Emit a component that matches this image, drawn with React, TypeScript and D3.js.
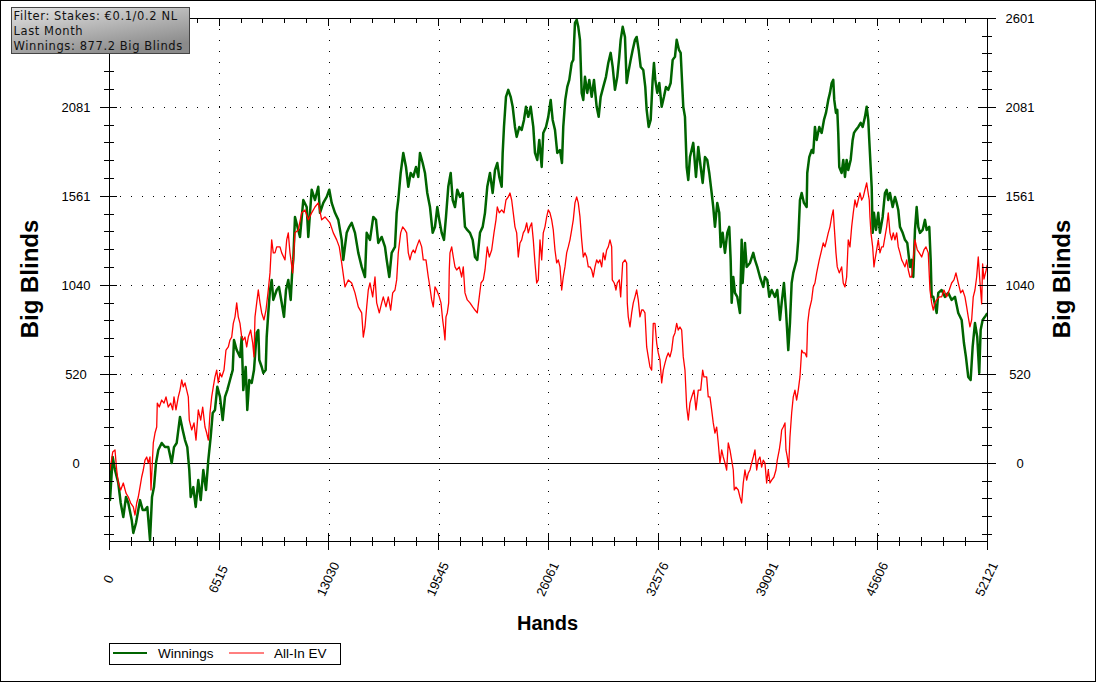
import React from 'react';
import * as d3 from 'd3';

const xTicks = [0, 6515, 13030, 19545, 26061, 32576, 39091, 45606, 52121];
const yTicks = [0, 520, 1040, 1561, 2081, 2601];
const infoLines = ['Filter: Stakes: €0.1/0.2 NL', 'Last Month', 'Winnings: 877.2 Big Blinds'];
const seriesNames = ['Winnings', 'All-In EV'];
const seriesColors = ['#006400', '#ff0000'];

const winnings: [number, number][] = [
  [0,0],[42,-215],[202,37],[338,-39],[534,-115],[677,-232],[831,-314],[991,-197],[1128,-232],[1330,-331],[1425,-407],[1585,-349],[1721,-273],[1822,-215],[1983,-273],[2119,-273],[2256,-255],[2416,-448],[2535,-197],[2653,-139],[2772,2],[2909,78],[3110,119],[3306,95],[3502,95],[3704,2],[3841,95],[4001,119],[4197,271],[4357,195],[4494,136],[4630,95],[4749,-39],[4832,-197],[4986,-139],[5129,-255],[5283,-98],[5426,-215],[5580,-39],[5740,-156],[5877,19],[6019,154],[6138,294],[6274,312],[6411,447],[6571,388],[6731,253],[6868,388],[7004,428],[7165,487],[7325,545],[7402,721],[7563,662],[7758,621],[7859,738],[7954,428],[8097,563],[8192,312],[8310,487],[8453,470],[8589,545],[8750,762],[8845,779],[8904,604],[9047,563],[9142,528],[9284,545],[9343,738],[9438,879],[9539,1013],[9640,1072],[9735,955],[9937,1013],[10073,1031],[10234,938],[10370,856],[10489,1013],[10625,1072],[10768,955],[10863,1130],[10922,1189],[11023,1440],[11320,1323],[11516,1539],[11718,1498],[11813,1323],[12014,1599],[12210,1539],[12406,1616],[12507,1464],[12703,1522],[12905,1557],[13059,1599],[13202,1522],[13398,1464],[13594,1423],[13795,1306],[13890,1189],[14092,1347],[14246,1382],[14389,1405],[14585,1347],[14781,1230],[14983,1148],[15178,1089],[15279,1347],[15475,1306],[15671,1440],[15831,1423],[15968,1288],[16170,1323],[16366,1265],[16467,1189],[16621,1089],[16763,1230],[16959,1265],[17060,1464],[17155,1539],[17297,1697],[17452,1814],[17612,1732],[17749,1616],[17891,1697],[18045,1674],[18206,1732],[18342,1674],[18443,1814],[18603,1755],[18740,1697],[18876,1580],[19037,1498],[19197,1347],[19334,1382],[19470,1498],[19589,1423],[19731,1347],[19868,1306],[19987,1440],[20123,1616],[20266,1697],[20385,1539],[20521,1498],[20657,1599],[20818,1557],[20978,1580],[21114,1382],[21251,1364],[21411,1347],[21571,1306],[21708,1206],[21845,1189],[22005,1347],[22165,1382],[22302,1464],[22438,1616],[22598,1697],[22758,1580],[22895,1714],[23032,1755],[23150,1674],[23293,1616],[23352,1814],[23429,1966],[23548,2142],[23684,2183],[23827,2142],[23946,2084],[24082,1966],[24183,1908],[24338,1966],[24480,1949],[24617,2007],[24735,2084],[24872,2025],[25014,2084],[25169,1966],[25270,1814],[25406,1773],[25525,1890],[25668,1732],[25762,1931],[25923,1966],[26059,2025],[26202,2124],[26320,2007],[26457,1949],[26593,1814],[26754,1831],[26872,1755],[26949,1966],[27068,2124],[27187,2200],[27306,2241],[27448,2340],[27543,2358],[27644,2574],[27745,2592],[27840,2551],[27941,2475],[28042,2165],[28137,2124],[28238,2259],[28374,2165],[28493,2241],[28636,2142],[28772,2241],[28932,2084],[29051,2025],[29170,2142],[29324,2200],[29484,2259],[29621,2340],[29763,2399],[29882,2317],[30018,2183],[30155,2259],[30274,2376],[30357,2475],[30476,2551],[30612,2492],[30713,2223],[30808,2282],[30950,2358],[31069,2416],[31206,2475],[31306,2492],[31425,2416],[31544,2317],[31698,2299],[31817,2200],[31900,2066],[32019,1966],[32138,2007],[32256,2241],[32333,2340],[32411,2241],[32529,2165],[32648,2223],[32791,2084],[32927,2142],[33046,2200],[33182,2183],[33325,2223],[33444,2358],[33580,2376],[33681,2475],[33818,2416],[33918,2399],[34073,2084],[34174,2025],[34275,1732],[34370,1656],[34471,1790],[34666,1873],[34827,1674],[34963,1849],[35106,1732],[35224,1639],[35361,1790],[35497,1773],[35616,1697],[35758,1580],[35853,1498],[35954,1382],[36091,1522],[36210,1464],[36293,1265],[36411,1347],[36548,1230],[36685,1347],[36803,1382],[36886,1189],[36946,938],[37041,1089],[37142,996],[37278,973],[37438,879],[37539,1306],[37598,1054],[37735,1288],[37836,1148],[38032,1171],[38228,1230],[38329,1189],[38465,1148],[38625,1089],[38821,1031],[38922,1089],[39059,1072],[39178,973],[39320,1013],[39516,973],[39653,1013],[39813,838],[39914,938],[40050,1054],[40169,896],[40306,662],[40406,821],[40507,1054],[40602,1113],[40804,1189],[40899,1306],[41000,1539],[41101,1580],[41237,1522],[41398,1498],[41433,1697],[41552,1790],[41694,1831],[41789,1814],[41890,1966],[41991,1890],[42146,1966],[42288,1931],[42425,2007],[42543,2048],[42680,2124],[42781,2165],[42882,2223],[42977,2241],[43036,2124],[43137,2048],[43214,2066],[43273,1931],[43333,1732],[43475,1697],[43570,1773],[43671,1674],[43772,1773],[43867,1714],[44010,1773],[44128,1890],[44206,1931],[44324,1949],[44461,1966],[44603,1990],[44722,1966],[44859,2025],[44960,2084],[45055,2007],[45114,1890],[45197,1732],[45257,1616],[45316,1347],[45393,1464],[45512,1364],[45648,1464],[45749,1347],[45909,1440],[46046,1580],[46147,1599],[46242,1539],[46343,1580],[46503,1498],[46640,1557],[46741,1522],[46836,1481],[46937,1382],[47097,1347],[47234,1306],[47370,1288],[47530,1148],[47631,1189],[47726,1089],[47827,1364],[47928,1498],[48023,1382],[48124,1347],[48284,1364],[48421,1423],[48522,1364],[48676,1382],[48759,1189],[48819,973],[48914,973],[49116,879],[49211,996],[49411,1013],[49607,973],[49803,996],[50005,955],[50201,973],[50397,879],[50598,838],[50735,703],[50853,622],[50990,505],[51132,487],[51251,680],[51388,820],[51524,738],[51643,528],[51726,779],[51844,838],[51981,856],[52121,877]
];

const allInEV: [number, number][] = [
  [0,0],[42,-39],[202,66],[338,78],[439,-39],[534,-115],[677,-156],[831,-115],[991,-174],[1128,-197],[1270,-232],[1425,-255],[1526,-302],[1626,-232],[1721,-197],[1822,-139],[1923,-80],[2018,-39],[2119,19],[2220,37],[2315,2],[2416,37],[2475,-156],[2553,2],[2612,119],[2713,177],[2814,212],[2849,352],[2968,329],[3110,370],[3247,352],[3366,388],[3502,329],[3645,352],[3763,312],[3841,388],[3959,312],[4096,388],[4197,428],[4298,487],[4393,447],[4494,470],[4594,428],[4690,388],[4749,253],[4891,195],[5028,236],[5147,136],[5283,312],[5426,253],[5544,329],[5681,212],[5782,177],[5877,136],[5978,294],[6078,388],[6173,447],[6274,505],[6375,545],[6470,470],[6571,528],[6672,505],[6809,545],[6927,662],[7064,680],[7165,721],[7266,738],[7361,818],[7462,856],[7563,938],[7657,856],[7758,818],[7859,738],[7954,721],[8055,738],[8156,680],[8251,738],[8393,779],[8512,703],[8589,622],[8649,856],[8750,938],[8845,1013],[8946,938],[9047,879],[9183,838],[9302,896],[9438,1013],[9539,1113],[9640,1306],[9735,1230],[9836,1230],[9937,1265],[10133,1265],[10234,1230],[10430,1189],[10531,1306],[10625,1347],[10726,1230],[10886,1113],[11023,1347],[11219,1364],[11421,1464],[11617,1481],[11813,1423],[12014,1464],[12210,1498],[12406,1522],[12608,1423],[12804,1440],[13101,1405],[13297,1347],[13499,1306],[13653,1265],[13795,1171],[13991,1031],[14187,1072],[14389,1054],[14585,996],[14781,914],[14983,879],[15078,738],[15178,797],[15279,914],[15374,1013],[15475,1054],[15636,973],[15772,1089],[15873,938],[16027,879],[16170,938],[16265,973],[16425,914],[16562,973],[16704,896],[16823,996],[16959,1013],[17060,1072],[17155,1230],[17297,1347],[17416,1382],[17553,1364],[17654,1347],[17749,1230],[17850,1189],[17951,1230],[18045,1247],[18146,1230],[18247,1265],[18401,1306],[18544,1265],[18639,1189],[18799,1189],[18936,1089],[18995,1054],[19137,955],[19232,914],[19334,1031],[19434,1013],[19589,973],[19690,938],[19790,838],[19868,779],[19927,721],[19987,856],[20064,879],[20147,938],[20182,1130],[20224,1230],[20325,1265],[20420,1206],[20521,1148],[20622,1130],[20776,1148],[20918,1089],[21013,1148],[21114,996],[21251,955],[21411,938],[21571,914],[21708,896],[21845,879],[21963,973],[22064,1054],[22201,1072],[22302,1130],[22361,1189],[22438,1265],[22557,1206],[22699,1247],[22836,1347],[22955,1423],[23032,1498],[23150,1464],[23293,1481],[23429,1464],[23548,1539],[23684,1557],[23785,1580],[23886,1539],[23981,1464],[24082,1382],[24183,1347],[24278,1206],[24379,1288],[24480,1306],[24575,1347],[24676,1364],[24777,1405],[24872,1347],[24973,1382],[25074,1405],[25169,1306],[25270,1171],[25371,1054],[25466,1072],[25567,1306],[25668,1189],[25762,1347],[25863,1382],[25964,1440],[26059,1481],[26160,1464],[26261,1423],[26356,1364],[26457,1247],[26558,1171],[26653,1189],[26754,1148],[26855,1013],[26949,1089],[27050,1148],[27151,1230],[27246,1265],[27347,1306],[27448,1364],[27543,1423],[27644,1522],[27745,1557],[27840,1522],[27941,1440],[28042,1306],[28137,1206],[28238,1230],[28339,1206],[28434,1148],[28535,1148],[28636,1130],[28730,1089],[28831,1148],[28932,1189],[29027,1171],[29128,1189],[29229,1148],[29324,1230],[29425,1189],[29526,1247],[29621,1265],[29722,1306],[29823,1265],[29858,1072],[29977,1054],[30078,1013],[30155,1054],[30274,1072],[30357,973],[30476,1171],[30612,1189],[30713,1171],[30749,938],[30808,856],[30909,797],[31010,879],[31105,938],[31206,973],[31306,1013],[31401,955],[31502,856],[31603,896],[31698,896],[31799,879],[31900,680],[31995,622],[32096,563],[32197,545],[32292,818],[32393,818],[32494,703],[32589,645],[32690,604],[32791,470],[32886,545],[32987,586],[33088,622],[33182,645],[33283,622],[33384,662],[33479,738],[33580,762],[33681,818],[33776,779],[33877,797],[33978,779],[34073,622],[34174,545],[34275,329],[34370,253],[34471,352],[34572,388],[34708,428],[34827,312],[34963,428],[35106,428],[35224,545],[35301,505],[35461,505],[35556,388],[35657,388],[35758,312],[35853,236],[35954,177],[36055,212],[36150,119],[36251,2],[36352,78],[36447,37],[36548,2],[36649,-39],[36744,119],[36845,78],[36946,19],[37041,-39],[37100,-156],[37201,-139],[37337,-156],[37438,-197],[37539,-232],[37634,-115],[37735,-39],[37836,-98],[37931,-57],[38032,-39],[38133,2],[38228,37],[38329,78],[38430,-39],[38525,19],[38625,37],[38726,-22],[38821,19],[38922,2],[39023,-115],[39118,-39],[39219,-115],[39320,-98],[39456,-80],[39575,-39],[39653,19],[39772,78],[39855,136],[39914,195],[40010,212],[40111,236],[40169,78],[40247,37],[40330,-22],[40406,154],[40507,294],[40602,388],[40703,428],[40804,370],[40899,428],[41000,505],[41101,662],[41196,645],[41297,645],[41398,622],[41457,818],[41552,896],[41694,955],[41789,1031],[41890,1054],[41991,1113],[42146,1189],[42288,1247],[42383,1288],[42484,1265],[42585,1306],[42680,1347],[42781,1382],[42882,1440],[42977,1481],[43036,1382],[43137,1230],[43214,1148],[43333,1113],[43475,1148],[43570,1054],[43671,1031],[43772,1089],[43867,1306],[43968,1265],[44069,1382],[44164,1464],[44265,1539],[44366,1498],[44461,1539],[44562,1580],[44663,1539],[44758,1557],[44859,1599],[44960,1639],[45019,1599],[45114,1539],[45156,1440],[45215,1347],[45316,1265],[45393,1148],[45452,1189],[45553,1247],[45648,1306],[45749,1230],[45850,1265],[45945,1265],[46046,1323],[46147,1382],[46242,1464],[46343,1347],[46444,1306],[46539,1347],[46640,1306],[46741,1347],[46836,1265],[46937,1230],[47038,1189],[47133,1171],[47234,1148],[47335,1189],[47430,1130],[47530,1089],[47631,1089],[47827,1306],[47964,1247],[48083,1230],[48225,1206],[48361,1247],[48480,1265],[48617,1230],[48717,1013],[48818,938],[48914,896],[49015,938],[49116,955],[49270,973],[49411,973],[49548,1013],[49708,973],[49863,1013],[50005,1054],[50142,1072],[50260,1113],[50397,1054],[50540,996],[50658,1013],[50795,973],[50896,914],[50990,856],[51091,797],[51192,838],[51287,973],[51388,1013],[51489,1089],[51584,1206],[51685,1060],[51786,932],[51844,1165],[51922,1077],[52041,1124],[52121,1160]
];

const W = 1096;
const H = 682;
const PL = 109.3, PR = 987.3, PT = 18.3, PB = 541;
const AX_FONT = '"Liberation Sans", Arial, sans-serif';

export default function App() {
  const x = d3.scaleLinear().domain([0, 52121]).range([PL, PR]);
  const y = d3.scaleLinear().domain([-454, 2601]).range([PB, PT]);
  const line = d3.line<[number, number]>().x(d => x(d[0])).y(d => y(d[1]));

  const xStep = 52121 / 8;
  const xMinor = d3.range(0, 41).filter(i => i % 5 !== 0).map(i => (i * xStep) / 5);
  const yStep = 2601 / 5;
  const yMinor = d3.range(-4, 26).filter(i => i % 5 !== 0).map(i => (i * yStep) / 5);

  const crisp = { shapeRendering: 'crispEdges' as const };
  // the left 2601 label sits under the info box in the reference, so it is not shown
  const leftLabels = yTicks.filter(t => y(t) > 60);

  return (
    <svg width={W} height={H} style={{ position: 'absolute', left: 0, top: 0, background: '#fff' }}
      xmlns="http://www.w3.org/2000/svg">
      <defs>
        <clipPath id="plotClip">
          <rect x={PL} y={PT} width={PR - PL} height={PB - PT} />
        </clipPath>
        <linearGradient id="infoGrad" x1="0" y1="0" x2="0.6" y2="1">
          <stop offset="0" stopColor="#e4e4e4" />
          <stop offset="1" stopColor="#8a8a8a" />
        </linearGradient>
      </defs>
      <rect x={0} y={0} width={W} height={H} fill="#fff" />
      <rect x={0.5} y={0.5} width={W - 1} height={H - 1} fill="none" stroke="#000" />

      {/* grid */}
      <g stroke="#000" strokeWidth={1} strokeDasharray="1,10" {...crisp}>
        {xTicks.slice(1, -1).map(t => (
          <line key={'gx' + t} x1={Math.round(x(t)) + 0.5} x2={Math.round(x(t)) + 0.5} y1={PT} y2={PB} />
        ))}
        {yTicks.slice(1, -1).map(t => (
          <line key={'gy' + t} x1={PL} x2={PR} y1={Math.round(y(t)) + 0.5} y2={Math.round(y(t)) + 0.5} />
        ))}
      </g>
      <line x1={PL} x2={PR} y1={Math.round(y(0)) + 0.5} y2={Math.round(y(0)) + 0.5} stroke="#000" {...crisp} />

      {/* series */}
      <g clipPath="url(#plotClip)" fill="none" strokeLinejoin="round">
        <path d={line(winnings) || ''} stroke={seriesColors[0]} strokeWidth={2.5} />
        <path d={line(allInEV) || ''} stroke={seriesColors[1]} strokeWidth={1.3} />
      </g>

      {/* axes */}
      <g stroke="#000" strokeWidth={1} {...crisp}>
        <line x1={PL} x2={PR + 9} y1={PT} y2={PT} />
        <line x1={PL} x2={PR} y1={PB} y2={PB} />
        <line x1={PL} x2={PL} y1={PT} y2={PB + 9} />
        <line x1={PR} x2={PR} y1={PT} y2={PB + 9} />
        {xTicks.map(t => (
          <g key={'xt' + t}>
            <line x1={x(t)} x2={x(t)} y1={PB - 8} y2={PB + 9} />
            <line x1={x(t)} x2={x(t)} y1={PT} y2={PT + 8} />
          </g>
        ))}
        {xMinor.map(t => (
          <g key={'xm' + t}>
            <line x1={x(t)} x2={x(t)} y1={PB - 4} y2={PB + 5} />
            <line x1={x(t)} x2={x(t)} y1={PT} y2={PT + 5} />
          </g>
        ))}
        {yTicks.map(t => (
          <g key={'yt' + t}>
            <line x1={PL - 9} x2={PL + 8} y1={y(t)} y2={y(t)} />
            <line x1={PR - 8} x2={PR + 9} y1={y(t)} y2={y(t)} />
          </g>
        ))}
        {yMinor.map(t => (
          <g key={'ym' + t}>
            <line x1={PL - 5} x2={PL + 5} y1={y(t)} y2={y(t)} />
            <line x1={PR - 5} x2={PR + 5} y1={y(t)} y2={y(t)} />
          </g>
        ))}
      </g>

      {/* tick labels */}
      <g fontFamily={AX_FONT} fontSize={13} fill="#000">
        {leftLabels.map(t => (
          <text key={'yl' + t} x={76} y={y(t)} dy="0.36em" textAnchor="middle">{t}</text>
        ))}
        {yTicks.map(t => (
          <text key={'yr' + t} x={1020} y={y(t)} dy="0.36em" textAnchor="middle">{t}</text>
        ))}
        {xTicks.map(t => (
          <text key={'xl' + t} transform={`translate(${x(t) - 1},579) rotate(-65)`} textAnchor="middle" dy="0.36em">{t}</text>
        ))}
      </g>

      {/* axis titles */}
      <g fontFamily={AX_FONT} fontWeight="bold" fill="#000">
        <text transform="translate(38,279) rotate(-90)" textAnchor="middle" fontSize={24}>Big Blinds</text>
        <text transform="translate(1070,279) rotate(-90)" textAnchor="middle" fontSize={24}>Big Blinds</text>
        <text x={547.5} y={630} textAnchor="middle" fontSize={20}>Hands</text>
      </g>

      {/* legend */}
      <g fontFamily={AX_FONT} fontSize={13.5}>
        <rect x={109.5} y={643.5} width={231} height={21} fill="#fff" stroke="#000" {...crisp} />
        <line x1={113} x2={147} y1={653} y2={653} stroke={seriesColors[0]} strokeWidth={2} />
        <text x={158} y={658}>{seriesNames[0]}</text>
        <line x1={229} x2={264} y1={653} y2={653} stroke={seriesColors[1]} strokeWidth={1} />
        <text x={274} y={658}>{seriesNames[1]}</text>
      </g>

      {/* info box */}
      <g>
        <rect x={11.5} y={7.5} width={178} height={46} fill="url(#infoGrad)" stroke="#444" {...crisp} />
        <g fontFamily='"DejaVu Sans", Verdana, sans-serif' fontSize={11.5} fill="#111" letterSpacing={0.6}>
          {infoLines.map((s, i) => (
            <text key={i} x={13.5} y={19.5 + i * 15}>{s}</text>
          ))}
        </g>
      </g>
    </svg>
  );
}
